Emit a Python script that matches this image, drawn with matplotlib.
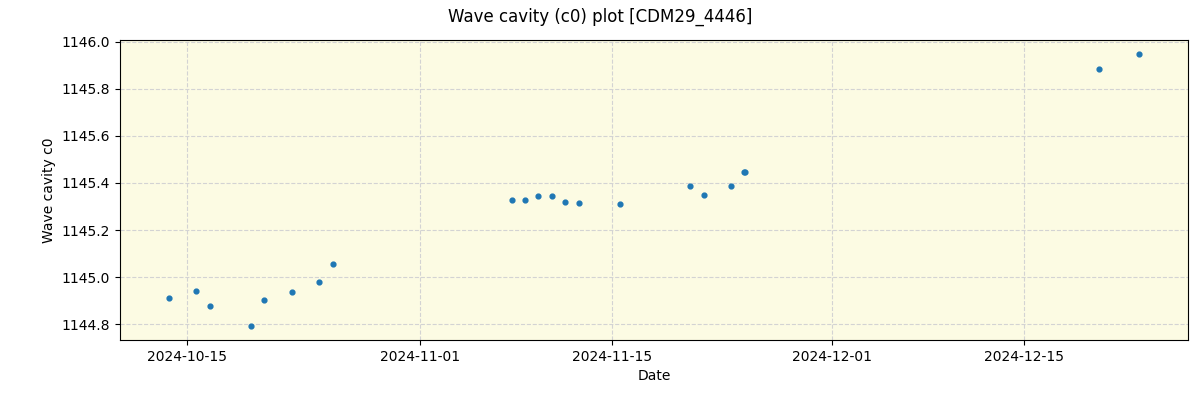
import pandas as pd
import matplotlib
matplotlib.use("Agg")
import matplotlib.pyplot as plt
import matplotlib.dates as mdates

dates = [
    "2024-10-13 16:30", "2024-10-15 15:45", "2024-10-16 16:15", "2024-10-19 16:00",
    "2024-10-20 14:40", "2024-10-22 15:40", "2024-10-24 15:00", "2024-10-25 15:20",
    "2024-11-07 16:30", "2024-11-08 15:00", "2024-11-09 14:10", "2024-11-10 14:40",
    "2024-11-11 14:00", "2024-11-12 13:40", "2024-11-15 14:10", "2024-11-20 15:50",
    "2024-11-21 16:20", "2024-11-23 15:40", "2024-11-24 15:00", "2024-11-24 16:40",
    "2024-12-20 11:20", "2024-12-23 09:20",
]
c0 = [
    1144.911, 1144.940, 1144.877, 1144.791,
    1144.902, 1144.936, 1144.979, 1145.055,
    1145.328, 1145.328, 1145.345, 1145.345,
    1145.319, 1145.315, 1145.311, 1145.387,
    1145.350, 1145.387, 1145.447, 1145.448,
    1145.885, 1145.949,
]
tick_dates = ["2024-10-15", "2024-11-01", "2024-11-15", "2024-12-01", "2024-12-15"]

times = pd.to_datetime(dates)

fig, ax = plt.subplots(figsize=(12, 4), dpi=100)
fig.subplots_adjust(left=0.1, right=0.99, top=0.9, bottom=0.15)

ax.set_facecolor("#fcfbe3")
ax.scatter(times, c0, s=12, color="tab:blue", zorder=3)

ax.set_xticks(pd.to_datetime(tick_dates))
ax.xaxis.set_major_formatter(mdates.DateFormatter("%Y-%m-%d"))
ax.grid(True, linestyle="--", color="lightgray")
ax.set_axisbelow(True)

ax.set_xlabel("Date")
ax.set_ylabel("Wave cavity c0")
fig.suptitle("Wave cavity (c0) plot [CDM29_4446]")

fig.savefig("out.png")
